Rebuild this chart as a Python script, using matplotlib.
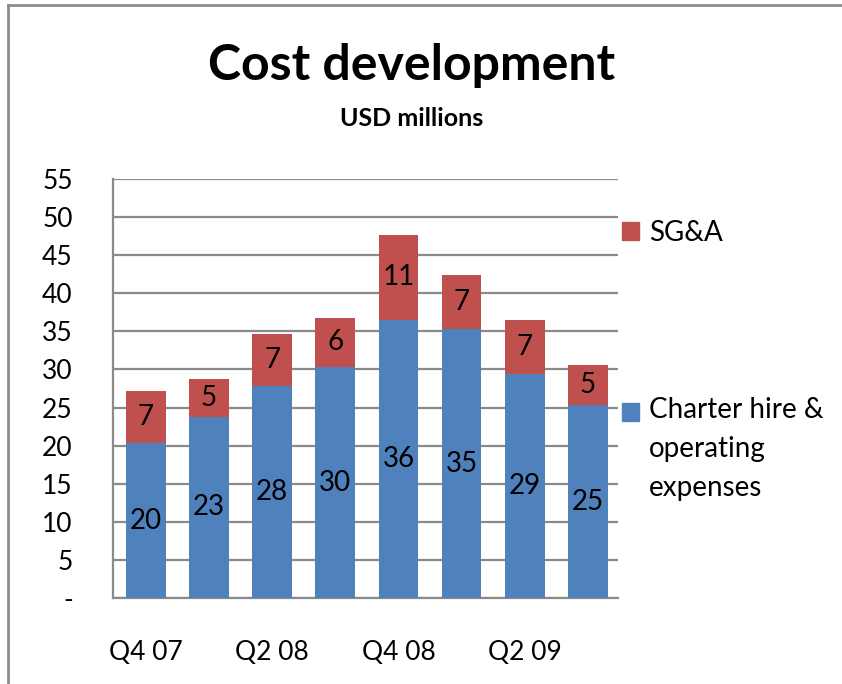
import matplotlib.pyplot as plt
from matplotlib.lines import Line2D
import numpy as np

plt.rcParams['font.family'] = ['Lato', 'DejaVu Sans']

# Data
quarters = ['Q4 07', 'Q1 08', 'Q2 08', 'Q3 08', 'Q4 08', 'Q1 09', 'Q2 09', 'Q3 09']
charter = [20.3, 23.8, 27.8, 30.3, 36.5, 35.3, 29.4, 25.3]
sga = [6.9, 4.9, 6.9, 6.5, 11.2, 7.1, 7.1, 5.3]
charter_labels = ['20', '23', '28', '30', '36', '35', '29', '25']
sga_labels = ['7', '5', '7', '6', '11', '7', '7', '5']
yticks = [0, 5, 10, 15, 20, 25, 30, 35, 40, 45, 50, 55]

blue = '#4F81BD'
red = '#C0504D'
grid_c = '#8A8A8A'

fig = plt.figure(figsize=(8.42, 6.84), dpi=100)
ax = fig.add_axes([0.1342, 0.1257, 0.6, 0.6126])

x = np.arange(len(quarters))
ax.bar(x, charter, width=0.63, color=blue, zorder=3)
ax.bar(x, sga, width=0.63, bottom=charter, color=red, zorder=3)

for i in range(len(x)):
    ax.text(x[i], charter[i] / 2, charter_labels[i], ha='center', va='center',
            fontsize=20, color='black', zorder=4)
    ax.text(x[i], charter[i] + sga[i] / 2, sga_labels[i], ha='center', va='center',
            fontsize=20, color='black', zorder=4)

ax.set_xlim(-0.52, 7.48)
ax.set_ylim(0, 55)
ax.set_yticks(yticks)
ax.set_yticklabels(['-'] + [str(v) for v in yticks[1:]], fontsize=19)
ax.yaxis.grid(True, color=grid_c, linewidth=1.6, zorder=0)
ax.tick_params(axis='y', length=0, pad=29)

ax.set_xticks(x[::2])
ax.set_xticklabels(quarters[::2], fontsize=19,
                   family=['Liberation Sans Narrow', 'Lato', 'DejaVu Sans'])
ax.tick_params(axis='x', length=0, pad=30)

for s in ['top', 'right']:
    ax.spines[s].set_visible(False)
for s in ['left', 'bottom']:
    ax.spines[s].set_color(grid_c)
    ax.spines[s].set_linewidth(1.6)

# Legend drawn as patches + text to match layout
fig.patches.append(plt.Rectangle((622 / 842, 1 - 240 / 684), 17 / 842, 18 / 684,
                                 transform=fig.transFigure, color=red))
fig.text(649 / 842, 1 - 233 / 684, 'SG&A', fontsize=20, va='center', ha='left')
fig.patches.append(plt.Rectangle((622 / 842, 1 - 421 / 684), 17 / 842, 18 / 684,
                                 transform=fig.transFigure, color=blue))
fig.text(649 / 842, 1 - 397 / 684, 'Charter hire &\noperating\nexpenses', fontsize=20,
         va='top', ha='left', linespacing=1.62)

# Titles
fig.text(0.489, 1 - 65 / 684, 'Cost development', fontsize=36, fontweight='bold',
         ha='center', va='center')
fig.text(0.489, 1 - 118 / 684, 'USD millions', fontsize=18, fontweight='bold',
         ha='center', va='center')

# Outer frame
fig.add_artist(Line2D([8 / 842, 8 / 842], [0, 1 - 5 / 684], color='#8C8C8C', linewidth=2,
                      transform=fig.transFigure))
fig.add_artist(Line2D([8 / 842, 1], [1 - 5 / 684, 1 - 5 / 684], color='#8C8C8C', linewidth=2,
                      transform=fig.transFigure))

fig.savefig('out.png', dpi=100)
